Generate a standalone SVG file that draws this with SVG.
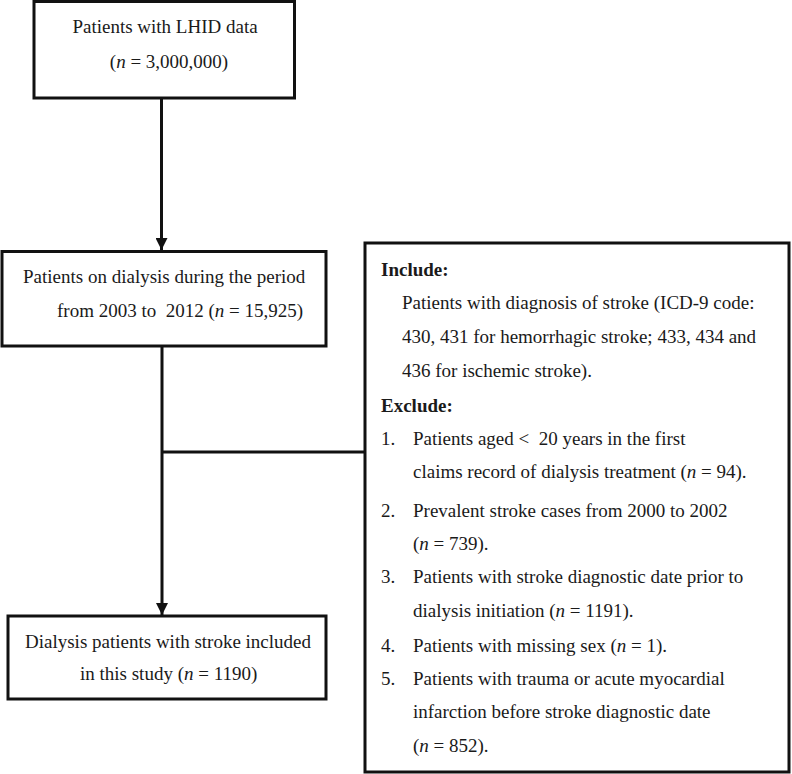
<svg xmlns="http://www.w3.org/2000/svg" width="792" height="774" viewBox="0 0 792 774">
<style>
.box{fill:#fff;stroke:#111;stroke-width:3}
.t{font-family:"Liberation Serif","Times New Roman",serif;font-size:19px;fill:#1a1a1a}
.b{font-weight:bold}
.i{font-style:italic}
.c{stroke:#111;stroke-width:3;fill:none}
</style>
<defs>
<marker id="ah" markerWidth="12" markerHeight="12" refX="12" refY="6" orient="auto" markerUnits="userSpaceOnUse">
<path d="M0,0 L12,6 L0,12 Z" fill="#111"/>
</marker>
</defs>
<rect width="792" height="774" fill="#fff"/>
<g id="connectors">
<line class="c" x1="161.5" y1="98" x2="161.5" y2="250" marker-end="url(#ah)"/>
<line class="c" x1="162" y1="346" x2="162" y2="615" marker-end="url(#ah)"/>
<line class="c" x1="162" y1="452" x2="365" y2="452"/>
</g>
<g id="n1">
<rect class="box" x="34" y="1.5" width="260.5" height="96.5"/>
<text class="t" x="165" y="33" text-anchor="middle">Patients with LHID data</text>
<text class="t" x="169" y="68" text-anchor="middle">(<tspan class="i">n</tspan> = 3,000,000)</text>
</g>
<g id="n2">
<rect class="box" x="2" y="251.5" width="324" height="94.5"/>
<text class="t" x="23" y="283">Patients on dialysis during the period</text>
<text class="t" x="57" y="317">from 2003 to &#160;2012 (<tspan class="i">n</tspan> = 15,925)</text>
</g>
<g id="n3">
<rect class="box" x="8" y="616" width="318" height="83"/>
<text class="t" x="25" y="648">Dialysis patients with stroke included</text>
<text class="t" x="80" y="680">in this study (<tspan class="i">n</tspan> = 1190)</text>
</g>
<g id="n4">
<rect class="box" x="365" y="243" width="424" height="529"/>
<text class="t b" x="381" y="276">Include:</text>
<text class="t" x="402" y="309">Patients with diagnosis of stroke (ICD-9 code:</text>
<text class="t" x="402" y="343">430, 431 for hemorrhagic stroke; 433, 434 and</text>
<text class="t" x="402" y="377">436 for ischemic stroke).</text>
<text class="t b" x="381" y="412">Exclude:</text>
<text class="t" x="381" y="445">1.</text>
<text class="t" x="413" y="445">Patients aged &lt; &#160;20 years in the first</text>
<text class="t" x="413" y="478">claims record of dialysis treatment (<tspan class="i">n</tspan> = 94).</text>
<text class="t" x="381" y="517">2.</text>
<text class="t" x="413" y="517">Prevalent stroke cases from 2000 to 2002</text>
<text class="t" x="413" y="550">(<tspan class="i">n</tspan> = 739).</text>
<text class="t" x="381" y="583">3.</text>
<text class="t" x="413" y="583">Patients with stroke diagnostic date prior to</text>
<text class="t" x="413" y="617">dialysis initiation (<tspan class="i">n</tspan> = 1191).</text>
<text class="t" x="381" y="652">4.</text>
<text class="t" x="413" y="652">Patients with missing sex (<tspan class="i">n</tspan> = 1).</text>
<text class="t" x="381" y="685">5.</text>
<text class="t" x="413" y="685">Patients with trauma or acute myocardial</text>
<text class="t" x="413" y="718">infarction before stroke diagnostic date</text>
<text class="t" x="413" y="752">(<tspan class="i">n</tspan> = 852).</text>
</g>
</svg>
